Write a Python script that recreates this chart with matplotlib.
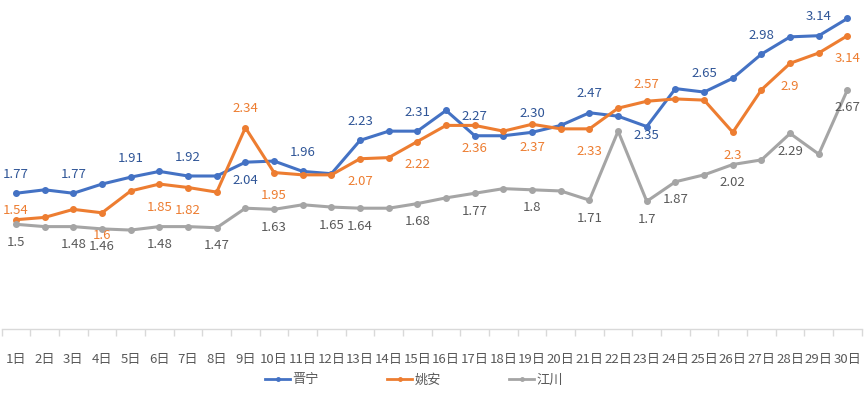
import matplotlib
matplotlib.use('Agg')
import matplotlib.pyplot as plt

plt.rcParams['font.family'] = ['Noto Sans CJK SC', 'DejaVu Sans']

days = [f'{i}日' for i in range(1, 31)]
jinning = [1.77, 1.80, 1.77, 1.85, 1.91, 1.96, 1.92, 1.92, 2.04, 2.05,
           1.96, 1.94, 2.23, 2.31, 2.31, 2.49, 2.27, 2.27, 2.30, 2.36,
           2.47, 2.44, 2.35, 2.68, 2.65, 2.77, 2.98, 3.13, 3.14, 3.29]
yaoan = [1.54, 1.56, 1.63, 1.60, 1.79, 1.85, 1.82, 1.78, 2.34, 1.95,
         1.93, 1.93, 2.07, 2.08, 2.22, 2.36, 2.36, 2.31, 2.37, 2.33,
         2.33, 2.51, 2.57, 2.59, 2.58, 2.30, 2.67, 2.90, 2.99, 3.14]
jiangchuan = [1.50, 1.48, 1.48, 1.46, 1.45, 1.48, 1.48, 1.47, 1.64, 1.63,
              1.67, 1.65, 1.64, 1.64, 1.68, 1.73, 1.77, 1.81, 1.80, 1.79,
              1.71, 2.31, 1.70, 1.87, 1.93, 2.02, 2.06, 2.29, 2.11, 2.67]

# which days carry a data label
jinning_lab = [1, 3, 5, 7, 9, 11, 13, 15, 17, 19, 21, 23, 25, 27, 29]
yaoan_lab = [1, 4, 6, 7, 9, 10, 13, 15, 17, 19, 21, 23, 26, 28, 30]
jiangchuan_lab = [1, 3, 4, 6, 8, 10, 12, 13, 15, 17, 19, 21, 23, 24, 26, 28, 30]

# label offsets in pixels (positive = above point)
jn_off = {9: -18, 23: -9}
ya_off = {1: 9, 9: 19, 23: 17}

x = list(range(1, 31))

fig = plt.figure(figsize=(8.65, 3.93), dpi=100)
ax = fig.add_axes([1.7/865, 1-329.3/393, 860.1/865, (329.3-5)/393])

ax.plot(x, jinning, color='#4472C4', lw=2.2, marker='o', ms=4, label='晋宁')
ax.plot(x, yaoan, color='#ED7D31', lw=2.2, marker='o', ms=4, label='姚安')
ax.plot(x, jiangchuan, color='#A5A5A5', lw=2.2, marker='o', ms=4, label='江川')

for d in jinning_lab:
    v = jinning[d-1]
    ax.annotate(f'{v:.2f}', (d, v), xytext=(0, jn_off.get(d, 19)), textcoords='offset pixels',
                ha='center', va='center', fontsize=9.5, color='#2F5597')
for d in yaoan_lab:
    v = yaoan[d-1]
    ax.annotate(f'{v:g}', (d, v), xytext=(0, ya_off.get(d, -23)), textcoords='offset pixels',
                ha='center', va='center', fontsize=9.5, color='#ED7D31')
for d in jiangchuan_lab:
    v = jiangchuan[d-1]
    ax.annotate(f'{v:g}', (d, v), xytext=(0, -18), textcoords='offset pixels',
                ha='center', va='center', fontsize=9.5, color='#595959')

ax.set_xlim(0.5, 30.5)
ax.set_ylim(0.587, 3.407)
ax.set_xticks(x)
ax.set_xticklabels(days, fontsize=9.5, color='#595959')
ax.set_xticks([i + 0.5 for i in range(0, 31)], minor=True)
ax.tick_params(axis='x', which='major', length=0, pad=17)
ax.tick_params(axis='x', which='minor', length=5, color='#D9D9D9', width=1)
ax.set_yticks([])
for s in ['top', 'right', 'left']:
    ax.spines[s].set_visible(False)
ax.spines['bottom'].set_color('#D9D9D9')
ax.spines['bottom'].set_linewidth(1)

leg = fig.legend(loc='center', bbox_to_anchor=(414/865, 1-380/393), ncol=3, frameon=False,
                 fontsize=9.5, handlelength=1.9, handletextpad=0.15, columnspacing=5.2,
                 labelcolor='#595959')
for h in leg.legend_handles:
    h.set_markersize(2.5)
    h.set_linewidth(2)

fig.savefig('out.png', dpi=100)
